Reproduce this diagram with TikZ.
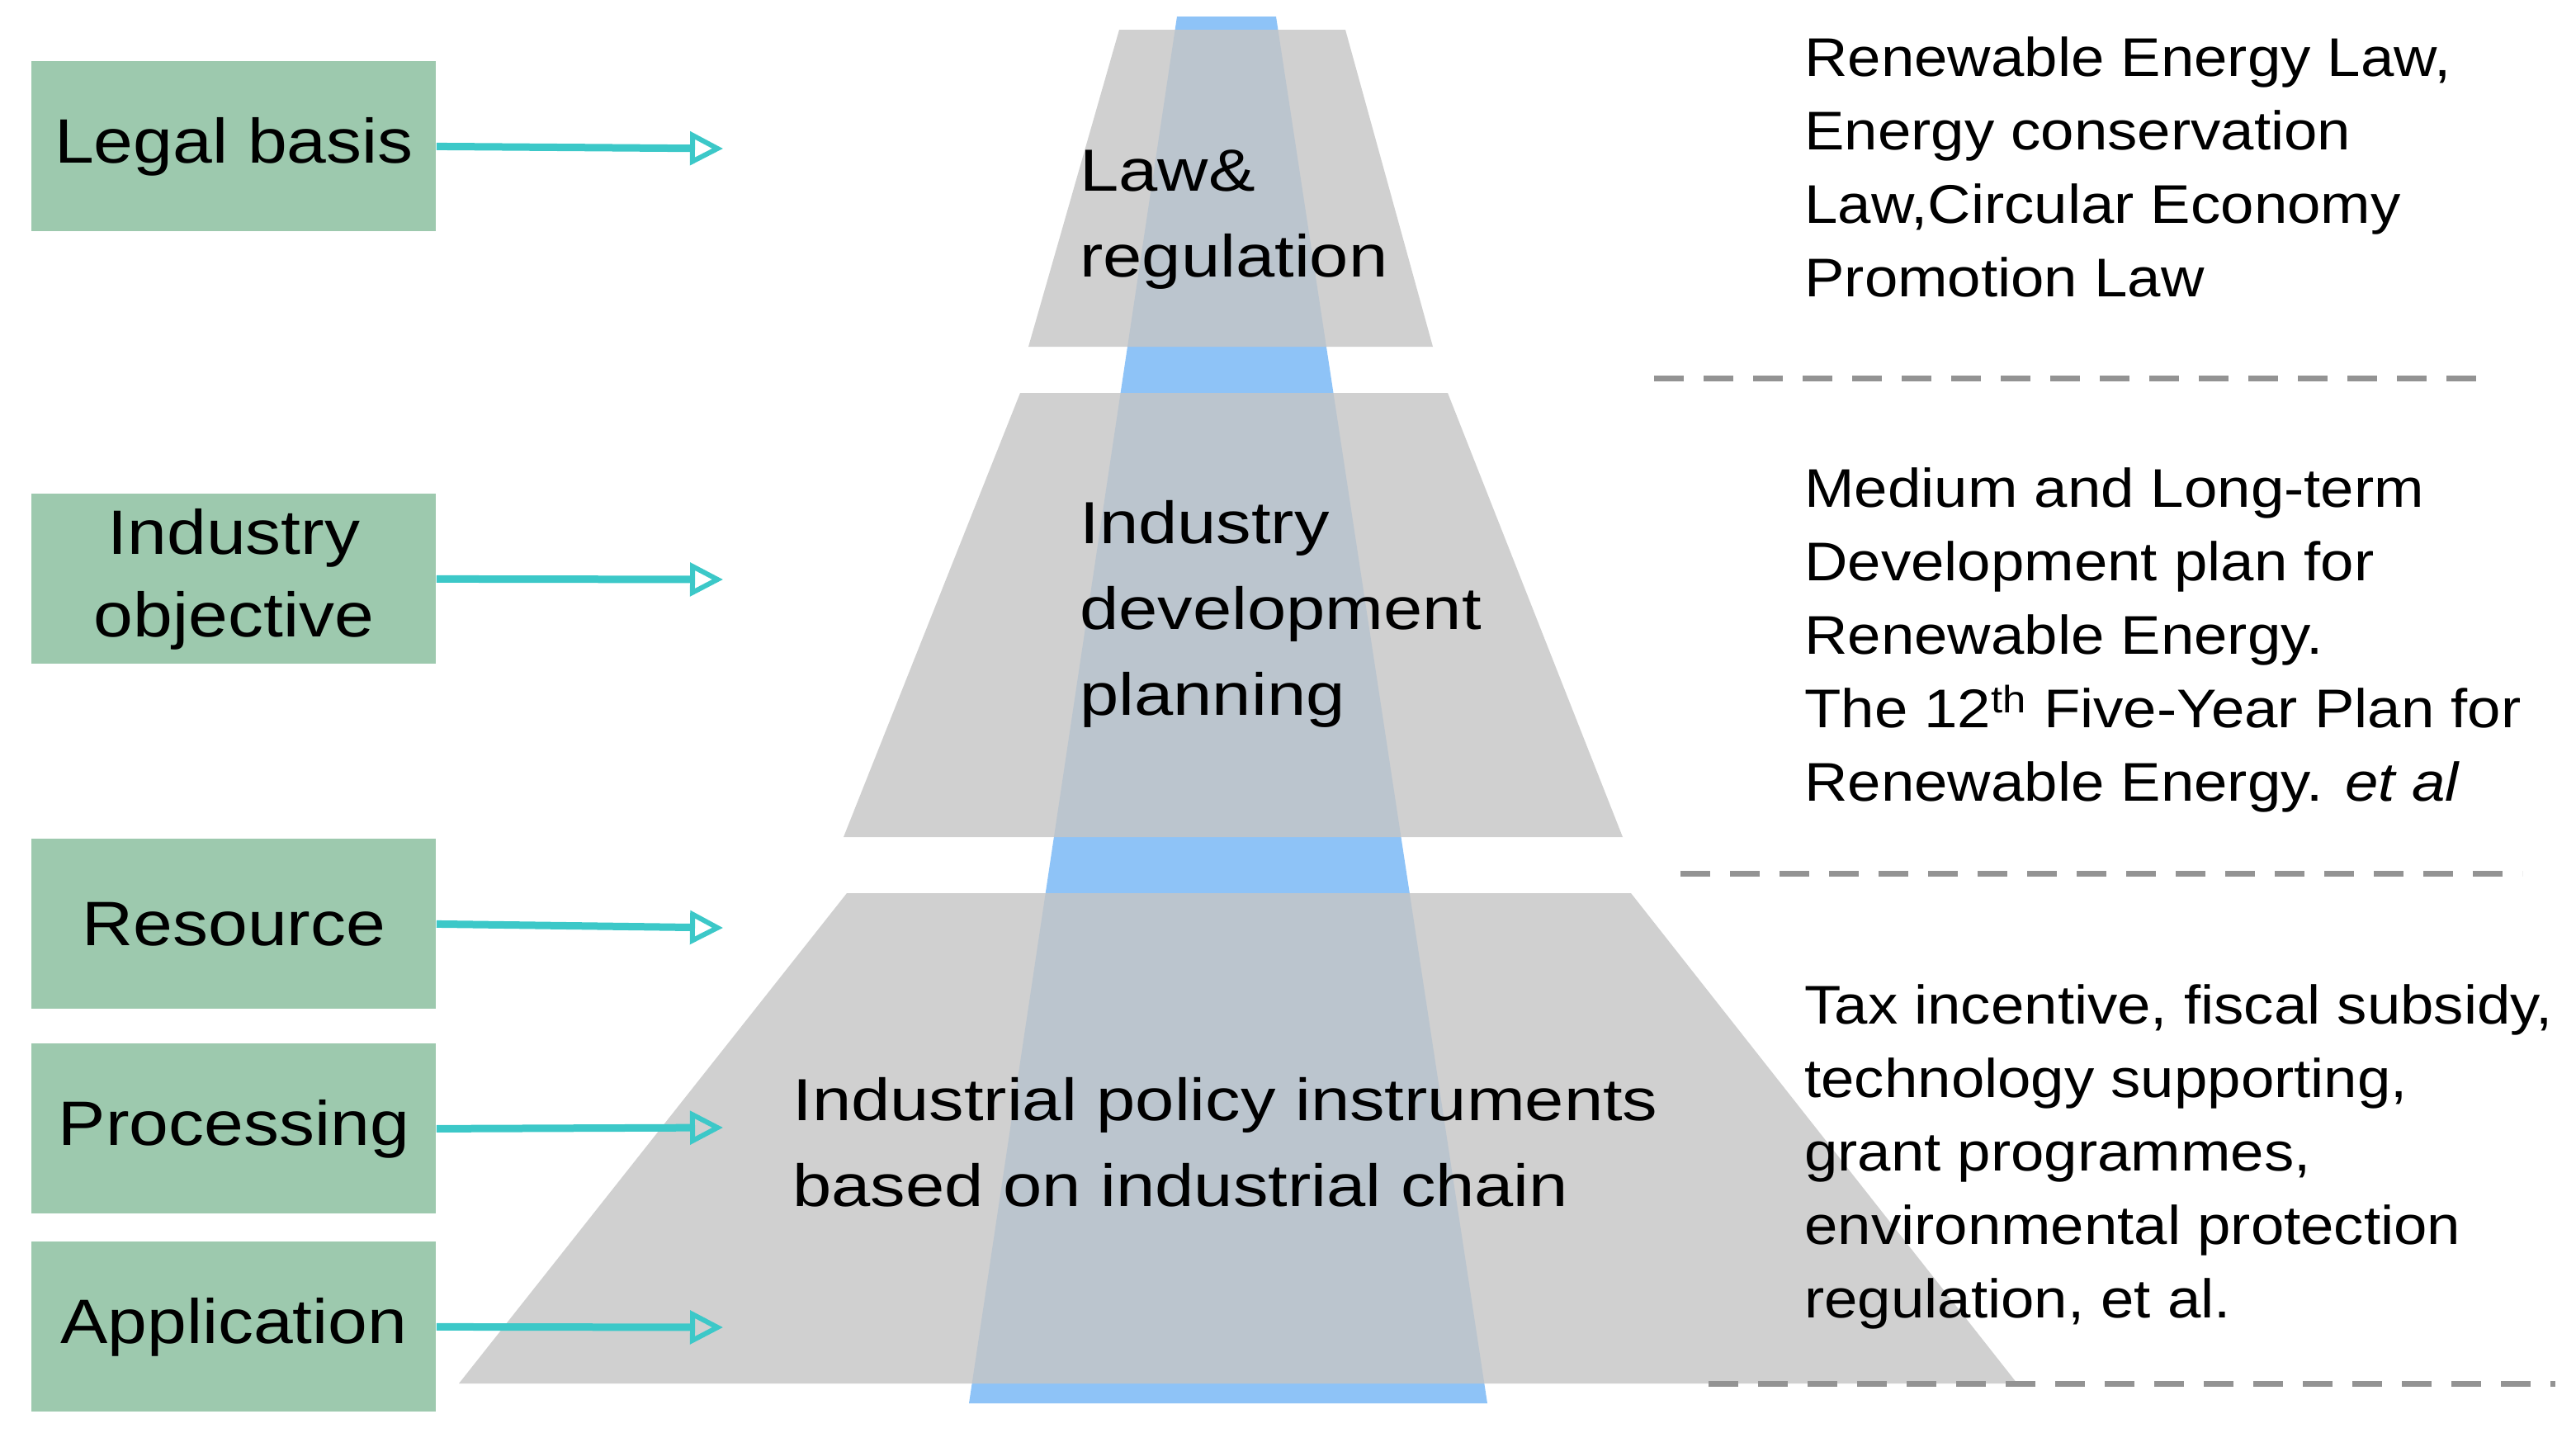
\documentclass[tikz,border=0pt]{standalone}
\usepackage{fontspec}
\setmainfont{Liberation Sans}
\newfontfamily\lfont{Liberation Sans}[FakeStretch=1.13]
\newfontfamily\pfont{Liberation Sans}[FakeStretch=1.18]
\newfontfamily\rfont{Liberation Sans}[FakeStretch=1.1]
\usetikzlibrary{arrows.meta}
\definecolor{boxg}{HTML}{9DC9AE}
\definecolor{arr}{HTML}{3CC8C8}
\definecolor{strip}{HTML}{8EC3F7}
\definecolor{tier}{HTML}{C6C6C6}
\begin{document}
\begin{tikzpicture}[x=1pt,y=-1pt,
 lbox/.style={fill=boxg,draw=none,minimum width=245pt,minimum height=103pt,anchor=north west,align=center,font=\lfont\fontsize{38}{50}\selectfont,inner sep=0pt},
 conn/.style={arr,line width=4.5pt,-{Triangle[length=20pt,width=20pt,open,line width=3pt]}},
 tier/.style={fill=tier,fill opacity=0.82,draw=none},
 ptxt/.style={anchor=west,align=left,font=\pfont\fontsize{36}{52}\selectfont,inner sep=0pt},
 rtxt/.style={anchor=north west,align=left,font=\rfont\fontsize{33}{44.5}\selectfont,inner sep=0pt},
 sep/.style={draw=gray!85,line width=3.5pt,dash pattern=on 18pt off 12pt}]
\useasboundingbox (0,0) rectangle (1560.5,867.5);
\fill[strip] (713,10) -- (773,10) -- (901,850) -- (587,850) -- cycle;
\fill[tier] (678,18) -- (815,18) -- (868,210) -- (623,210) -- cycle;
\fill[tier] (618,238) -- (877,238) -- (983,507) -- (511,507) -- cycle;
\fill[tier] (513,541) -- (988,541) -- (1222,838) -- (278,838) -- cycle;
\node[ptxt] (t1) at (654,133) {Law\&\\regulation};
\node[ptxt] (t2) at (654,372) {Industry\\development\\planning};
\node[ptxt] (t3) at (480,692) {Industrial policy instruments\\based on industrial chain};
\node[lbox] (b1) at (19,37) {Legal basis};
\node[lbox] (b2) at (19,299) {Industry\\objective};
\node[lbox] (b3) at (19,508) {Resource};
\node[lbox] (b4) at (19,632) {Processing};
\node[lbox] (b5) at (19,752) {Application};
\coordinate (e1) at (438,90);
\coordinate (e2) at (438,351);
\coordinate (e3) at (438,562);
\coordinate (e4) at (438,683);
\coordinate (e5) at (438,804);
\draw[conn] (b1.east) -- (e1);
\draw[conn] (b2.east) -- (e2);
\draw[conn] (b3.east) -- (e3);
\draw[conn] (b4.east) -- (e4);
\draw[conn] (b5.east) -- (e5);
\node[rtxt] (r1) at (1093,22) {Renewable Energy Law,\\Energy conservation\\Law,Circular Economy\\Promotion Law};
\node[rtxt] (r2) at (1093,283) {Medium and Long-term\\Development plan for\\Renewable Energy.\\The 12\textsuperscript{th} Five-Year Plan for\\Renewable Energy. {\itshape et al}};
\node[rtxt] (r3) at (1093,596) {Tax incentive, fiscal subsidy,\\technology supporting,\\grant programmes,\\environmental protection\\regulation, et al.};
\coordinate (d1a) at (1002,229); \coordinate (d1b) at (1510,229);
\coordinate (d2a) at (1018,529); \coordinate (d2b) at (1528,529);
\coordinate (d3a) at (1035,838); \coordinate (d3b) at (1548,838);
\draw[sep] (d1a) -- (d1b);
\draw[sep] (d2a) -- (d2b);
\draw[sep] (d3a) -- (d3b);
\end{tikzpicture}
\end{document}
